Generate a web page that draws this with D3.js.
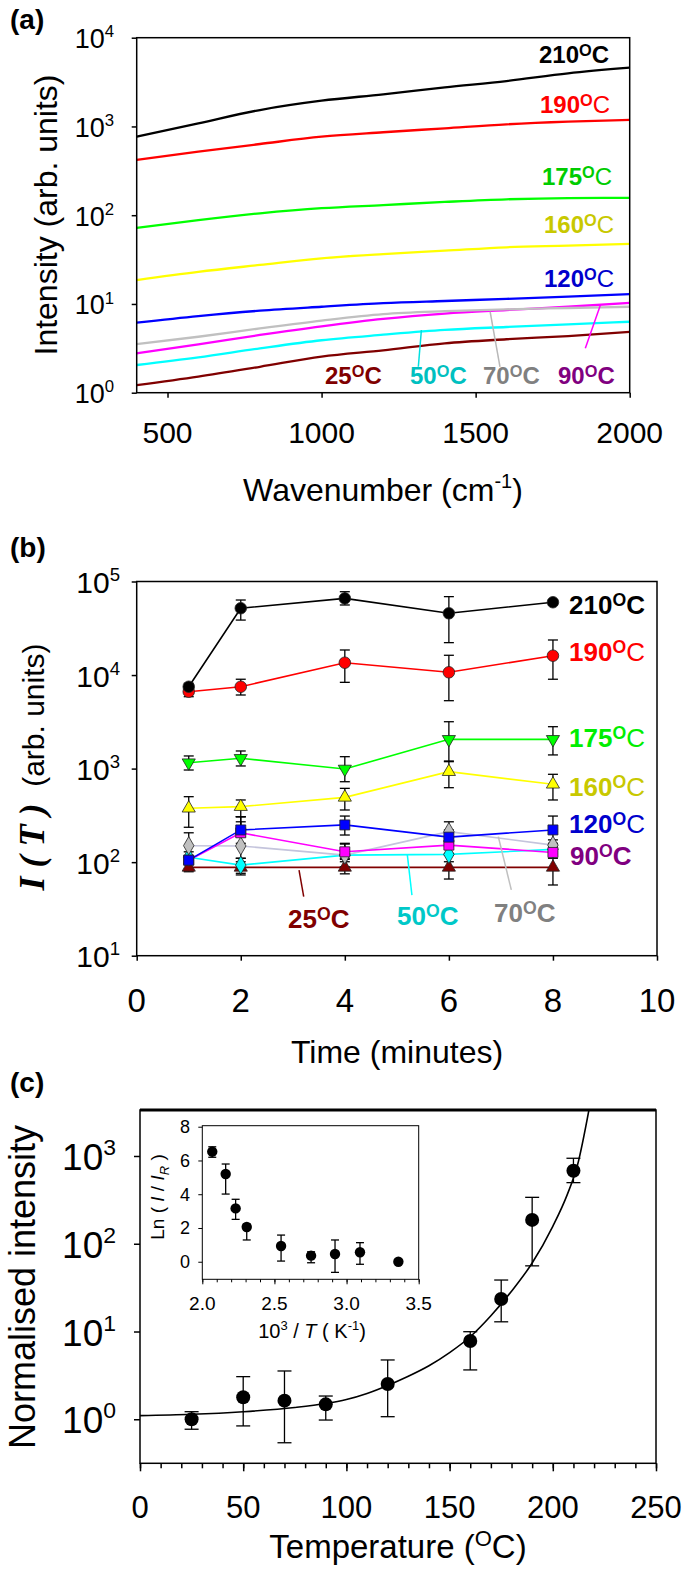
<!DOCTYPE html>
<html><head><meta charset="utf-8">
<script src="https://cdn.jsdelivr.net/npm/d3@7"></script>
<style>
body{margin:0;background:#fff}
svg text{font-family:"Liberation Sans",Arial,sans-serif}
</style>
</head><body>
<svg id="chart" width="685" height="1574"></svg>
<script>
// ---------------- DATA ----------------
// Panel (a): spectra, intensity vs wavenumber
const wavenumbers = [400, 600, 800, 1000, 1200, 1400, 1600, 1800, 2000];
const spec210 = [767, 1085, 1532, 1950, 2300, 2760, 3250, 3970, 4590];
const spec190 = [419, 520, 634, 767, 860, 953, 1057, 1132, 1183];
const spec175 = [72, 88, 105, 120, 130, 141, 151, 156, 157];
const spec160 = [18.6, 23, 27.5, 32.7, 36.5, 39.8, 43.5, 45.3, 47.4];
const spec120 = [6.15, 7.3, 8.4, 9.3, 10.2, 10.8, 11.4, 12.1, 12.9];
const spec90  = [2.78, 3.5, 4.47, 5.6, 6.8, 7.8, 8.55, 9.3, 10.3];
const spec70  = [3.53, 4.27, 5.3, 6.5, 7.7, 8.3, 8.7, 9.0, 9.3];
const spec50  = [2.05, 2.5, 3.16, 3.9, 4.5, 5.1, 5.5, 5.9, 6.3];
const spec25  = [1.22, 1.52, 1.96, 2.55, 3.0, 3.6, 4.0, 4.35, 4.85];
const ticksA_x = [500, 1000, 1500, 2000];
const ticksA_y = [1, 10, 100, 1000, 10000];

// Panel (b): I(T) vs time, with [low, high] error bars
const times = [1, 2, 4, 6, 8];
const i210 = [7500, 51800, 66000, 45700, 60000];
const e210 = [[6920, 8170], [38700, 63400], [56100, 77800], [22200, 68900], [56000, 64000]];
const i190 = [6640, 7500, 13550, 10700, 16100];
const e190 = [[5870, 7500], [6120, 9020], [8360, 18530], [5320, 16270], [9020, 23700]];
const i175 = [1156, 1288, 990, 2055, 2055];
const e175 = [[966, 1365], [1067, 1543], [724, 1341], [1186, 3170], [1400, 2805]];
const i160 = [377, 392, 493, 927, 680];
const e160 = [[236, 501], [306, 462], [361, 615], [625, 1206], [462, 869]];
const i120 = [105, 221, 250, 185, 221];
const e120 = [[97, 114], [187, 306], [195, 311], [159, 221], [159, 311]];
const i90 = [105, 206, 129, 152, 127];
const e90 = [[97, 114], [159, 270], [110, 156], [124, 180], [110, 146]];
const i70 = [150, 149, 119, 212, 152];
const e70 = [[105, 206], [101, 306], [89, 159], [166, 270], [129, 173]];
const i50 = [113, 93, 119, 121, 137];
const e50 = [[97, 129], [76, 110], [101, 137], [101, 146], [119, 152]];
const i25 = [88, 88, 88, 88, 88];
const e25 = [[79, 101], [73, 110], [75, 107], [66, 119], [57, 124]];
const ticksB_x = [0, 2, 4, 6, 8, 10];
const ticksB_y = [10, 100, 1000, 10000, 100000];

// Panel (c): normalised intensity vs temperature
const temps = [25, 50, 70, 90, 120, 160, 175, 190, 210];
const normInt = [1.0, 1.78, 1.63, 1.48, 2.52, 7.8, 23.5, 187, 680];
const normLo = [0.77, 0.84, 0.54, 0.98, 1.07, 3.65, 12.9, 56, 497];
const normHi = [1.22, 3.06, 3.55, 1.84, 4.74, 9.95, 38.6, 338, 942];
const fitT = [0, 25, 50, 75, 90, 100, 110, 120, 130, 140, 150, 160, 170, 180, 190, 200, 207, 212, 217.5];
const fitV = [1.10, 1.14, 1.22, 1.36, 1.51, 1.68, 1.97, 2.43, 3.09, 4.07, 5.75, 8.71, 15.1, 28.8, 60.3, 158, 363, 794, 3342];
const ticksC_x = [0, 50, 100, 150, 200, 250];
const ticksC_y = [1, 10, 100, 1000];

// Inset: Ln(I/IR) vs 1000/T
const invT = [2.069, 2.162, 2.231, 2.308, 2.546, 2.754, 2.920, 3.093, 3.359];
const lnI  = [6.52, 5.20, 3.16, 2.06, 0.93, 0.36, 0.46, 0.56, 0.0];
const lnLo = [6.19, 4.01, 2.51, 1.29, 0.04, -0.06, -0.63, -0.15, -0.10];
const lnHi = [6.81, 5.79, 3.70, 2.23, 1.58, 0.59, 1.29, 1.13, 0.12];
const ticksI_x = [2.0, 2.5, 3.0, 3.5];
const ticksI_y = [0, 2, 4, 6, 8];

// ---------------- DRAWING ----------------
const svg = d3.select('#chart');
const BLACK = '#000';

function frame(g, x, y) {
  const [x0, x1] = x.range(), [y0, y1] = y.range();
  g.append('rect').attr('x', x0).attr('y', Math.min(y0, y1)).attr('width', x1 - x0)
    .attr('height', Math.abs(y0 - y1)).attr('fill', 'none').attr('stroke', BLACK).attr('stroke-width', 1.5);
}
function cleanAxis(sel) { sel.select('.domain').remove(); sel.selectAll('.tick line').attr('stroke', BLACK).attr('stroke-width', 1.5); sel.selectAll('.tick text').remove(); }
function logLabels(g, scale, vals, xEnd, fs, dyBase) {
  vals.forEach(v => {
    const t = g.append('text').attr('x', xEnd).attr('y', scale(v) + dyBase)
      .attr('text-anchor', 'end').attr('font-size', fs).attr('fill', BLACK);
    t.append('tspan').text('10');
    t.append('tspan').attr('font-size', fs * 0.62).attr('dy', -fs * 0.4).text(Math.round(Math.log10(v)));
  });
}
function linLabels(g, scale, vals, yBase, fs, fmt) {
  vals.forEach(v => {
    g.append('text').attr('x', scale(v)).attr('y', yBase).attr('text-anchor', 'middle')
      .attr('font-size', fs).attr('fill', BLACK).text(fmt ? fmt(v) : v);
  });
}
function degLabel(g, x, y, num, color, fs, allBold) {
  const t = g.append('text').attr('x', x).attr('y', y).attr('fill', color)
    .attr('font-size', fs).attr('font-weight', 'bold');
  t.append('tspan').text(num);
  t.append('tspan').attr('font-size', fs * 0.68).attr('dy', -fs * 0.3).text('O');
  t.append('tspan').attr('dy', fs * 0.3).attr('font-weight', allBold ? 'bold' : 'normal').text('C');
}
function panelTag(txt, x, y) {
  svg.append('text').attr('x', x).attr('y', y).attr('font-size', 28).attr('font-weight', 'bold').text(txt);
}

// ===== Panel (a) =====
const xA = d3.scaleLinear().domain([400, 2000]).range([136.7, 629.7]);
const yA = d3.scaleLog().domain([1, 1e4]).range([392.7, 37.7]);
const gA = svg.append('g');
panelTag('(a)', 10, 29);
gA.append('g').attr('transform', `translate(0,${yA.range()[0]})`)
  .call(d3.axisBottom(xA).tickValues(ticksA_x).tickSize(5).tickSizeOuter(0)).call(cleanAxis);
gA.append('g').attr('transform', `translate(${xA.range()[0]},0)`)
  .call(d3.axisLeft(yA).tickValues(ticksA_y).tickSize(5).tickSizeOuter(0)).call(cleanAxis);
logLabels(gA, yA, ticksA_y, 114, 27, 10.5);
linLabels(gA, xA, ticksA_x, 443, 30);
const specSeries = [
  {v: spec25, c: '#800000'}, {v: spec50, c: '#00ffff'}, {v: spec90, c: '#ff00ff'},
  {v: spec70, c: '#c0c0c0'}, {v: spec120, c: '#0000ff'}, {v: spec160, c: '#ffff00'},
  {v: spec175, c: '#00ff00'}, {v: spec190, c: '#ff0000'}, {v: spec210, c: '#000000'}
];
const lineA = d3.line().x(d => xA(d[0])).y(d => yA(d[1])).curve(d3.curveMonotoneX);
specSeries.forEach(s => {
  gA.append('path').attr('d', lineA(wavenumbers.map((w, i) => [w, s.v[i]])))
    .attr('fill', 'none').attr('stroke', s.c).attr('stroke-width', 2.3);
});
frame(gA, xA, yA);
// leader lines (a)
[[[1314, 1.96], [1324, 5.09], '#00e0e0'], [[1579, 1.96], [1547, 8.18], '#b8b8b8'], [[1856, 3.17], [1905, 9.73], '#ff00ff']]
  .forEach(([p, q, c]) => gA.append('line').attr('x1', xA(p[0])).attr('y1', yA(p[1])).attr('x2', xA(q[0])).attr('y2', yA(q[1]))
    .attr('stroke', c).attr('stroke-width', 1.5));
degLabel(gA, 539, 63, '210', '#000', 24, true);
degLabel(gA, 540, 113, '190', '#ff0000', 24, false);
degLabel(gA, 542, 185, '175', '#00cc00', 24, false);
degLabel(gA, 544, 233, '160', '#c8c800', 24, false);
degLabel(gA, 544, 287, '120', '#0000cc', 24, false);
degLabel(gA, 325, 384, '25', '#800000', 24, true);
degLabel(gA, 410, 384, '50', '#00c0c0', 24, true);
degLabel(gA, 483, 384, '70', '#808080', 24, true);
degLabel(gA, 558, 384, '90', '#800080', 24, true);
// axis titles (a)
{
  const t = svg.append('text').attr('x', 383).attr('y', 501).attr('text-anchor', 'middle').attr('font-size', 32);
  t.append('tspan').text('Wavenumber (cm');
  t.append('tspan').attr('font-size', 20).attr('dy', -13).text('-1');
  t.append('tspan').attr('dy', 13).text(')');
  svg.append('text').attr('transform', 'translate(57,215) rotate(-90)').attr('text-anchor', 'middle')
    .attr('font-size', 32).text('Intensity (arb. units)');
}

// ===== Panel (b) =====
const xB = d3.scaleLinear().domain([0, 10]).range([136.7, 657]);
const yB = d3.scaleLog().domain([10, 1e5]).range([955.7, 581.5]);
const gB = svg.append('g');
panelTag('(b)', 10, 557);
gB.append('g').attr('transform', `translate(0,${yB.range()[0]})`)
  .call(d3.axisBottom(xB).tickValues(ticksB_x).tickSize(5).tickSizeOuter(0)).call(cleanAxis);
gB.append('g').attr('transform', `translate(${xB.range()[0]},0)`)
  .call(d3.axisLeft(yB).tickValues(ticksB_y).tickSize(5).tickSizeOuter(0)).call(cleanAxis);
logLabels(gB, yB, ticksB_y, 120, 30, 11.5);
linLabels(gB, xB, ticksB_x, 1012, 33);
const seriesB = [
  {v: i25, e: e25, line: '#800000', fill: '#800000', shape: 'triUp'},
  {v: i50, e: e50, line: '#00ffff', fill: '#00ffff', shape: 'diamond'},
  {v: i70, e: e70, line: '#c4c4dc', fill: '#c0c0c0', shape: 'diamond'},
  {v: i90, e: e90, line: '#ff00ff', fill: '#ff00ff', shape: 'square'},
  {v: i120, e: e120, line: '#0000ff', fill: '#0000ff', shape: 'square'},
  {v: i160, e: e160, line: '#ffff00', fill: '#ffff00', shape: 'triUp'},
  {v: i175, e: e175, line: '#00ff00', fill: '#00ff00', shape: 'triDown'},
  {v: i190, e: e190, line: '#ff0000', fill: '#ff0000', shape: 'circle'},
  {v: i210, e: e210, line: '#000000', fill: '#000000', shape: 'circle'}
];
const lineB = d3.line().x(d => xB(d[0])).y(d => yB(d[1]));
seriesB.forEach(s => {
  gB.append('path').attr('d', lineB(times.map((t, i) => [t, s.v[i]])))
    .attr('fill', 'none').attr('stroke', s.line).attr('stroke-width', 1.6);
});
function errBar(g, x, yLo, yHi, hw) {
  g.append('line').attr('x1', x).attr('x2', x).attr('y1', yLo).attr('y2', yHi).attr('stroke', BLACK).attr('stroke-width', 1.3);
  [yLo, yHi].forEach(y => g.append('line').attr('x1', x - hw).attr('x2', x + hw).attr('y1', y).attr('y2', y).attr('stroke', BLACK).attr('stroke-width', 1.3));
}
seriesB.forEach(s => times.forEach((t, i) => errBar(gB, xB(t), yB(s.e[i][0]), yB(s.e[i][1]), 5)));
const shapes = {
  circle: d3.symbol().type(d3.symbolCircle).size(105),
  square: d3.symbol().type(d3.symbolSquare).size(100),
  diamond: d3.symbol().type(d3.symbolDiamond).size(95),
  triUp: d3.symbol().type(d3.symbolTriangle).size(75),
  triDown: d3.symbol().type(d3.symbolTriangle).size(75)
};
seriesB.forEach(s => times.forEach((t, i) => {
  gB.append('path').attr('d', shapes[s.shape]())
    .attr('transform', `translate(${xB(t)},${yB(s.v[i])})${s.shape === 'triDown' ? ' rotate(180)' : ''}`)
    .attr('fill', s.fill).attr('stroke', '#222').attr('stroke-width', 0.8);
}));
frame(gB, xB, yB);
[[[3.12, 82.4], [3.21, 42.7], '#800000'], [[5.20, 122], [5.29, 44.5], '#00ffff'], [[6.95, 187.5], [7.20, 50.5], '#c0c0c0']]
  .forEach(([p, q, c]) => gB.append('line').attr('x1', xB(p[0])).attr('y1', yB(p[1])).attr('x2', xB(q[0])).attr('y2', yB(q[1]))
    .attr('stroke', c).attr('stroke-width', 1.5));
degLabel(gB, 569, 614, '210', '#000', 26, true);
degLabel(gB, 569, 661, '190', '#ff0000', 26, false);
degLabel(gB, 569, 747, '175', '#00ee00', 26, false);
degLabel(gB, 569, 796, '160', '#c8c800', 26, false);
degLabel(gB, 569, 833, '120', '#0000cc', 26, false);
degLabel(gB, 570, 865, '90', '#800080', 26, true);
degLabel(gB, 288, 928, '25', '#800000', 26, true);
degLabel(gB, 397, 925, '50', '#00c8c8', 26, true);
degLabel(gB, 494, 922, '70', '#808080', 26, true);
svg.append('text').attr('x', 397).attr('y', 1063).attr('text-anchor', 'middle').attr('font-size', 32).text('Time (minutes)');
{
  const t = svg.append('text').attr('transform', 'translate(44,767) rotate(-90)').attr('text-anchor', 'middle');
  t.append('tspan').attr('font-family', '"Liberation Serif", "Times New Roman", serif').attr('font-style', 'italic')
    .attr('font-weight', 'bold').attr('font-size', 36).text('I ( T )');
  t.append('tspan').attr('font-size', 30).text('\u00a0\u00a0(arb. units)');
}

// ===== Panel (c) =====
const xC = d3.scaleLinear().domain([0, 250]).range([140, 656]);
const yC = d3.scaleLog().domain([0.315, 3342]).range([1463.3, 1110]);
const gC = svg.append('g');
panelTag('(c)', 10, 1092);
gC.append('g').attr('transform', `translate(0,${yC.range()[0]})`)
  .call(d3.axisBottom(xC).tickValues(d3.range(0, 251, 10)).tickSize(5).tickSizeOuter(0)).call(cleanAxis);
gC.append('g').attr('transform', `translate(0,${yC.range()[0]})`)
  .call(d3.axisBottom(xC).tickValues(ticksC_x).tickSize(8).tickSizeOuter(0)).call(cleanAxis);
gC.append('g').attr('transform', `translate(${xC.range()[0]},0)`)
  .call(d3.axisLeft(yC).tickValues(ticksC_y).tickSize(6).tickSizeOuter(0)).call(cleanAxis);
logLabels(gC, yC, ticksC_y, 116, 37, 14);
linLabels(gC, xC, ticksC_x, 1518, 31);
frame(gC, xC, yC);
gC.append('line').attr('x1', xC.range()[0]).attr('x2', xC.range()[1]).attr('y1', yC.range()[1]).attr('y2', yC.range()[1])
  .attr('stroke', BLACK).attr('stroke-width', 3);
// fit curve, clipped to plot
svg.append('clipPath').attr('id', 'clipC').append('rect')
  .attr('x', 140).attr('y', 1110).attr('width', 516).attr('height', 353.3);
const lineC = d3.line().x(d => xC(d[0])).y(d => yC(d[1])).curve(d3.curveMonotoneX);
gC.append('path').attr('clip-path', 'url(#clipC)').attr('d', lineC(fitT.map((t, i) => [t, fitV[i]])))
  .attr('fill', 'none').attr('stroke', BLACK).attr('stroke-width', 1.6);
temps.forEach((t, i) => errBar(gC, xC(t), yC(normLo[i]), yC(normHi[i]), 7));
temps.forEach((t, i) => gC.append('circle').attr('cx', xC(t)).attr('cy', yC(normInt[i])).attr('r', 7).attr('fill', BLACK));
{
  const t = svg.append('text').attr('x', 398).attr('y', 1558).attr('text-anchor', 'middle').attr('font-size', 33);
  t.append('tspan').text('Temperature (');
  t.append('tspan').attr('font-size', 22).attr('dy', -12).text('O');
  t.append('tspan').attr('dy', 12).text('C)');
  svg.append('text').attr('transform', 'translate(35,1287) rotate(-90)').attr('text-anchor', 'middle')
    .attr('font-size', 36).text('Normalised intensity');
}

// ===== Inset =====
const xI = d3.scaleLinear().domain([2.0, 3.5]).range([202.3, 418.7]);
const yI = d3.scaleLinear().domain([-1.04, 8.06]).range([1279.3, 1125.7]);
const gI = svg.append('g');
gI.append('rect').attr('x', 202.3).attr('y', 1125.7).attr('width', 216.4).attr('height', 153.6).attr('fill', '#fff');
gI.append('g').attr('transform', `translate(0,${yI.range()[0]})`)
  .call(d3.axisBottom(xI).tickValues(d3.range(2.0, 3.51, 0.1)).tickSize(3).tickSizeOuter(0)).call(cleanAxis);
gI.append('g').attr('transform', `translate(0,${yI.range()[0]})`)
  .call(d3.axisBottom(xI).tickValues(ticksI_x).tickSize(5).tickSizeOuter(0)).call(cleanAxis);
gI.append('g').attr('transform', `translate(${xI.range()[0]},0)`)
  .call(d3.axisLeft(yI).tickValues(ticksI_y).tickSize(4).tickSizeOuter(0)).call(cleanAxis);
gI.selectAll('.tick line').attr('stroke-width', 1);
gI.append('rect').attr('x', 202.3).attr('y', 1125.7).attr('width', 216.4).attr('height', 153.6)
  .attr('fill', 'none').attr('stroke', BLACK).attr('stroke-width', 1);
ticksI_y.forEach(v => gI.append('text').attr('x', 190).attr('y', yI(v) + 6.5).attr('text-anchor', 'end')
  .attr('font-size', 18).text(v));
linLabels(gI, xI, ticksI_x, 1310, 19, d3.format('.1f'));
invT.forEach((x, i) => errBar(gI, xI(x), yI(lnLo[i]), yI(lnHi[i]), 4));
invT.forEach((x, i) => gI.append('circle').attr('cx', xI(x)).attr('cy', yI(lnI[i])).attr('r', 5.2).attr('fill', BLACK));
{
  const t = svg.append('text').attr('x', 312).attr('y', 1338).attr('text-anchor', 'middle').attr('font-size', 20);
  t.append('tspan').text('10');
  t.append('tspan').attr('font-size', 13).attr('dy', -8).text('3');
  t.append('tspan').attr('dy', 8).text(' / ');
  t.append('tspan').attr('font-style', 'italic').text('T');
  t.append('tspan').text(' ( K');
  t.append('tspan').attr('font-size', 13).attr('dy', -8).text('-1');
  t.append('tspan').attr('dy', 8).text(')');
  const u = svg.append('text').attr('transform', 'translate(164,1197) rotate(-90)').attr('text-anchor', 'middle').attr('font-size', 19);
  u.append('tspan').text('Ln ( ');
  u.append('tspan').attr('font-style', 'italic').text('I');
  u.append('tspan').text(' / ');
  u.append('tspan').attr('font-style', 'italic').text('I');
  u.append('tspan').attr('font-style', 'italic').attr('font-size', 13).attr('dy', 5).text('R');
  u.append('tspan').attr('dy', -5).text(' )');
}
</script>
</body></html>
